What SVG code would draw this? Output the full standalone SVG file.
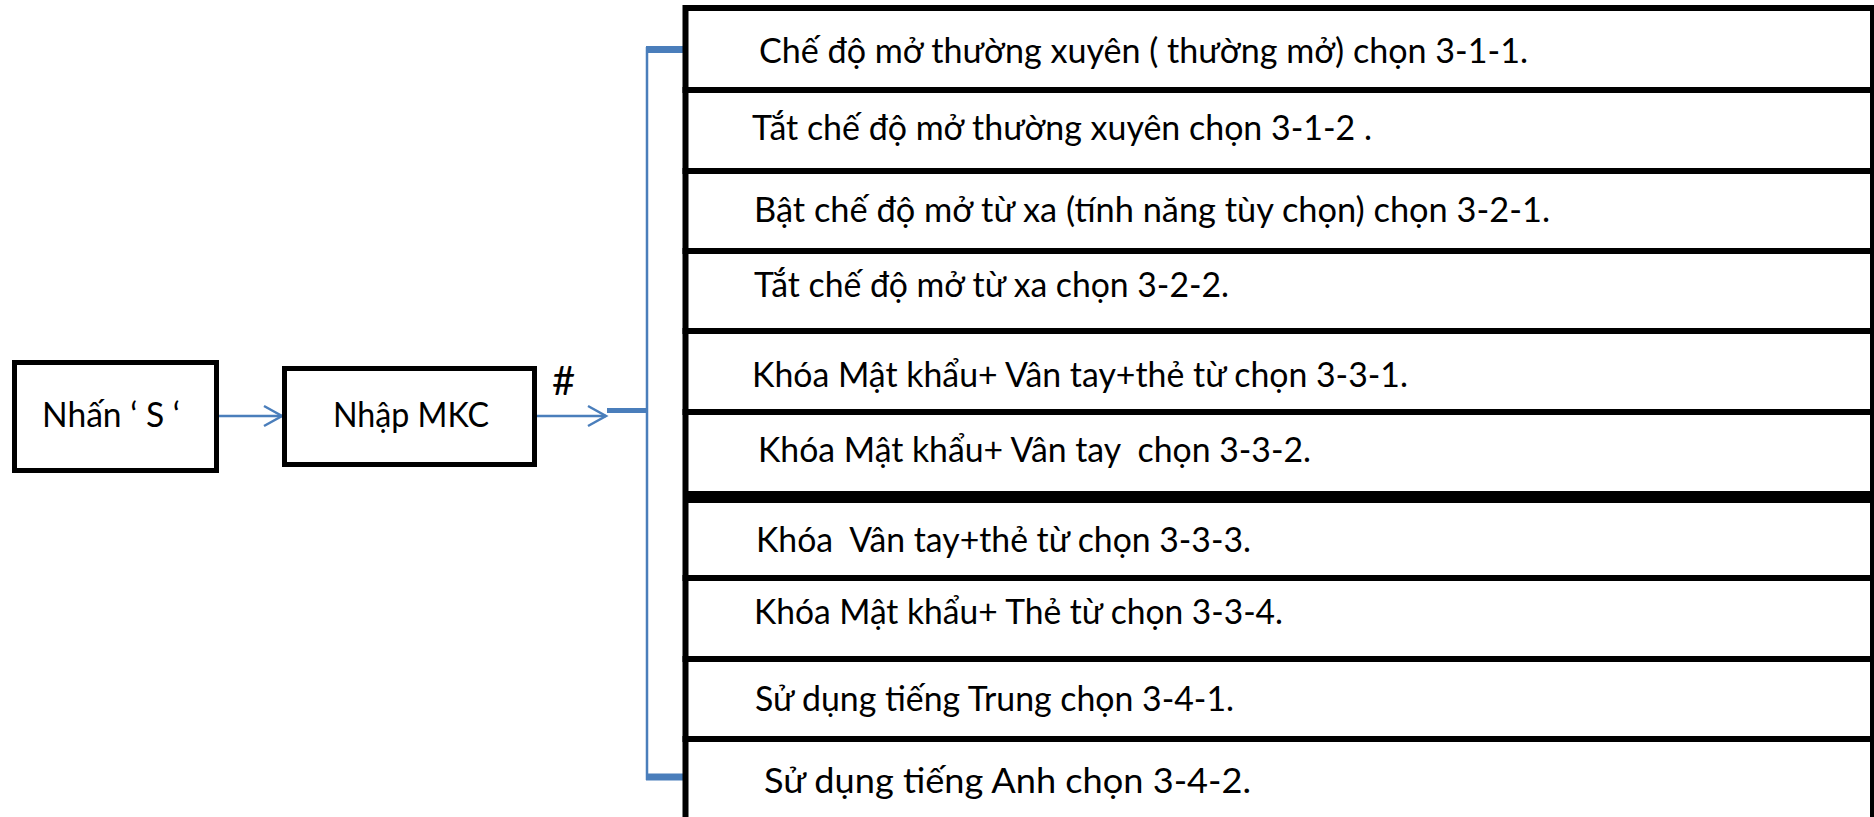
<svg xmlns="http://www.w3.org/2000/svg" width="1874" height="817" viewBox="0 0 1874 817">
<style>
.box{fill:#fff;stroke:#000;stroke-width:5;stroke-linejoin:miter}
.row{fill:#fff;stroke:#000;stroke-width:6}
.t{font-family:Lato,"Open Sans","Liberation Sans",sans-serif;font-size:34px;fill:#000}
.c{stroke:#4A7EBB;fill:none}
</style>
<defs>
<marker id="arr" markerUnits="userSpaceOnUse" markerWidth="24" markerHeight="24" refX="18" refY="10" orient="auto" overflow="visible">
<path d="M0,0 L18,10 L0,20" fill="none" stroke="#4A7EBB" stroke-width="2.5"/>
</marker>
</defs>
<rect width="1874" height="817" fill="#fff"/>
<g id="connectors">
<line class="c" x1="219" y1="416" x2="282" y2="416" stroke-width="2.5" marker-end="url(#arr)"/>
<line class="c" x1="537" y1="416" x2="606" y2="416" stroke-width="2.5" marker-end="url(#arr)"/>
<line class="c" x1="607" y1="410.5" x2="647" y2="410.5" stroke-width="5"/>
<line class="c" x1="647" y1="47" x2="647" y2="780" stroke-width="2.5"/>
<line class="c" x1="646" y1="49.5" x2="684" y2="49.5" stroke-width="7"/>
<line class="c" x1="646" y1="777" x2="684" y2="777" stroke-width="7"/>
<text class="t" x="552" y="395" style="font-size:40px">#</text>
</g>
<g id="n1">
<rect class="box" x="14.5" y="362.5" width="202" height="108"/>
<text class="t" x="42" y="427" textLength="138" lengthAdjust="spacingAndGlyphs" xml:space="preserve">Nhấn ‘ S ‘</text>
</g>
<g id="n2">
<rect class="box" x="284.5" y="368.5" width="250" height="96"/>
<text class="t" x="333" y="427" textLength="156" lengthAdjust="spacingAndGlyphs">Nhập MKC</text>
</g>
<g id="r1"><rect class="row" x="685.5" y="8" width="1187.5" height="82"/>
<text class="t" x="759" y="63" textLength="769" lengthAdjust="spacingAndGlyphs" xml:space="preserve">Chế độ mở thường xuyên ( thường mở) chọn 3-1-1.</text></g>
<g id="r2"><rect class="row" x="685.5" y="90" width="1187.5" height="81"/>
<text class="t" x="752" y="140" textLength="620" lengthAdjust="spacingAndGlyphs" xml:space="preserve">Tắt chế độ mở thường xuyên chọn 3-1-2 .</text></g>
<g id="r3"><rect class="row" x="685.5" y="171" width="1187.5" height="80"/>
<text class="t" x="754" y="222" textLength="796" lengthAdjust="spacingAndGlyphs" xml:space="preserve">Bật chế độ mở từ xa (tính năng tùy chọn) chọn 3-2-1.</text></g>
<g id="r4"><rect class="row" x="685.5" y="251" width="1187.5" height="80"/>
<text class="t" x="754" y="297" textLength="475" lengthAdjust="spacingAndGlyphs" xml:space="preserve">Tắt chế độ mở từ xa chọn 3-2-2.</text></g>
<g id="r5"><rect class="row" x="685.5" y="331" width="1187.5" height="81"/>
<text class="t" x="752" y="387" textLength="656" lengthAdjust="spacingAndGlyphs" xml:space="preserve">Khóa Mật khẩu+ Vân tay+thẻ từ chọn 3-3-1.</text></g>
<g id="r6"><rect class="row" x="685.5" y="412" width="1187.5" height="82"/>
<text class="t" x="758" y="462" textLength="553" lengthAdjust="spacingAndGlyphs" xml:space="preserve">Khóa Mật khẩu+ Vân tay  chọn 3-3-2.</text></g>
<g id="r7"><rect class="row" x="685.5" y="500" width="1187.5" height="78"/>
<text class="t" x="756" y="552" textLength="495" lengthAdjust="spacingAndGlyphs" xml:space="preserve">Khóa  Vân tay+thẻ từ chọn 3-3-3.</text></g>
<g id="r8"><rect class="row" x="685.5" y="578" width="1187.5" height="81"/>
<text class="t" x="754" y="624" textLength="529" lengthAdjust="spacingAndGlyphs" xml:space="preserve">Khóa Mật khẩu+ Thẻ từ chọn 3-3-4.</text></g>
<g id="r9"><rect class="row" x="685.5" y="659" width="1187.5" height="80"/>
<text class="t" x="755" y="711" textLength="479" lengthAdjust="spacingAndGlyphs" xml:space="preserve">Sử dụng tiếng Trung chọn 3-4-1.</text></g>
<g id="r10"><rect class="row" x="685.5" y="739" width="1187.5" height="82"/>
<text class="t" x="764" y="793" textLength="487" lengthAdjust="spacingAndGlyphs" xml:space="preserve">Sử dụng tiếng Anh chọn 3-4-2.</text></g>
</svg>
